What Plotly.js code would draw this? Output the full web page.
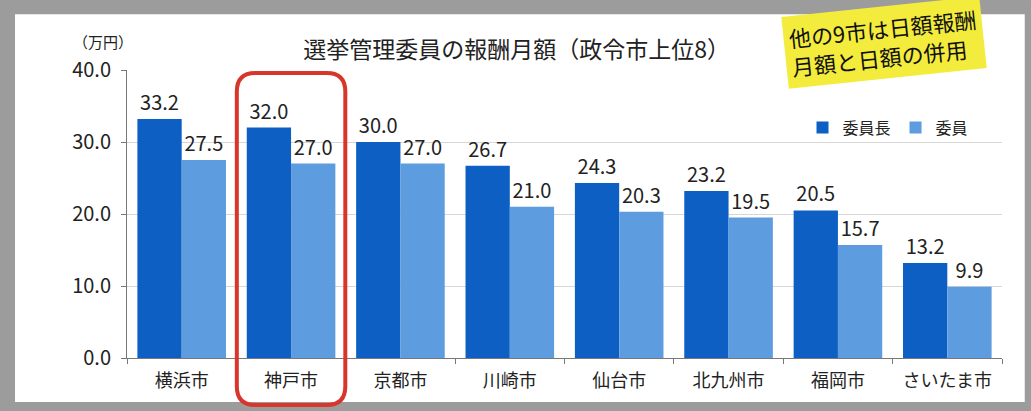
<!DOCTYPE html>
<html>
<head>
<meta charset="utf-8">
<script src="https://cdn.plot.ly/plotly-3.0.1.min.js"></script>
<style>
  html, body { margin: 0; padding: 0; width: 1031px; height: 411px; overflow: hidden; background: #9c9c9c; }
  #chart { position: absolute; left: 0; top: 0; width: 1031px; height: 411px; }
</style>
</head>
<body>
<div id="chart"></div>
<script>
const cities = ['横浜市', '神戸市', '京都市', '川崎市', '仙台市', '北九州市', '福岡市', 'さいたま市'];
const chairValues = [33.2, 32.0, 30.0, 26.7, 24.3, 23.2, 20.5, 13.2];
const memberValues = [27.5, 27.0, 27.0, 21.0, 20.3, 19.5, 15.7, 9.9];
const seriesNames = ['委員長', '委員'];
const yTicks = [0, 10, 20, 30, 40];
const yTickLabels = ['0.0', '10.0', '20.0', '30.0', '40.0'];

const FONT = '"Noto Sans CJK JP", "Noto Sans", sans-serif';
const textFont = { family: FONT, size: 20, color: '#222' };

const traces = [
  {
    type: 'bar', name: seriesNames[0], x: cities, y: chairValues,
    marker: { color: '#0d5fc4' },
    text: chairValues.map(v => v.toFixed(1)), textposition: 'outside',
    textfont: textFont, cliponaxis: false
  },
  {
    type: 'bar', name: seriesNames[1], x: cities, y: memberValues,
    marker: { color: '#5e9ce0' },
    text: memberValues.map(v => v.toFixed(1)), textposition: 'outside',
    textfont: textFont, cliponaxis: false
  }
];

// rounded rectangle around 神戸市 in paper coords
const x0 = 0.1255, x1 = 0.2495, y0 = -0.163, y1 = 0.99, rx = 0.021, ry = 0.065;
const rrPath = `M ${x0 + rx} ${y1} L ${x1 - rx} ${y1} Q ${x1} ${y1} ${x1} ${y1 - ry} L ${x1} ${y0 + ry} Q ${x1} ${y0} ${x1 - rx} ${y0} L ${x0 + rx} ${y0} Q ${x0} ${y0} ${x0} ${y0 + ry} L ${x0} ${y1 - ry} Q ${x0} ${y1} ${x0 + rx} ${y1} Z`;

const layout = {
  width: 1031, height: 411,
  margin: { l: 127, r: 29, t: 70, b: 53 },
  paper_bgcolor: '#9c9c9c', plot_bgcolor: 'rgba(0,0,0,0)',
  font: { family: FONT, color: '#222' },
  barmode: 'group', bargap: 0.19, bargroupgap: 0,
  title: { text: '選挙管理委員の報酬月額（政令市上位8）', font: { family: FONT, size: 23, color: '#222' },
           x: 0.501, xanchor: 'center', yref: 'container', y: 0.878, yanchor: 'middle' },
  showlegend: true,
  legend: { orientation: 'h', x: 0.772, xanchor: 'left', y: 0.8, yanchor: 'middle',
            font: { family: FONT, size: 16, color: '#222' }, itemwidth: 30, traceorder: 'normal',
            bgcolor: 'rgba(0,0,0,0)' },
  xaxis: {
    type: 'category', tickfont: { family: FONT, size: 18, color: '#222' },
    showline: true, linecolor: '#777', linewidth: 1,
    ticks: 'outside', ticklen: 5, tickcolor: '#777', tickson: 'boundaries',
    ticklabelstandoff: 6, showgrid: false
  },
  yaxis: {
    range: [0, 40], tickvals: yTicks, ticktext: yTickLabels,
    tickfont: { family: FONT, size: 20, color: '#222' },
    showline: true, linecolor: '#777', linewidth: 1,
    ticks: 'outside', ticklen: 5, tickcolor: '#777', ticklabelstandoff: 6,
    showgrid: true, gridcolor: '#d6d6d6', zeroline: false
  },
  shapes: [
    { type: 'rect', xref: 'paper', yref: 'paper', layer: 'below',
      x0: -0.128, x1: 1.026, y0: -0.153, y1: 1.194,
      fillcolor: '#ffffff', line: { width: 0 } },
    { type: 'path', xref: 'paper', yref: 'paper', path: rrPath,
      line: { color: '#d8362a', width: 4 }, fillcolor: 'rgba(0,0,0,0)' }
  ],
  annotations: [
    { text: '（万円）', xref: 'paper', yref: 'paper', x: -0.027, y: 1.1, xanchor: 'center', yanchor: 'middle',
      showarrow: false, font: { family: FONT, size: 15, color: '#222' } },
    { text: '他の9市は日額報酬<br>月額と日額の併用', xref: 'paper', yref: 'paper',
      x: 0.865, y: 1.095, xanchor: 'center', yanchor: 'middle', showarrow: false,
      textangle: -6, bgcolor: '#f3ec3c', borderpad: 5, align: 'left',
      font: { family: FONT, size: 22, color: '#111' } }
  ]
};

Plotly.newPlot('chart', traces, layout, { displayModeBar: false, staticPlot: true });
</script>
</body>
</html>
